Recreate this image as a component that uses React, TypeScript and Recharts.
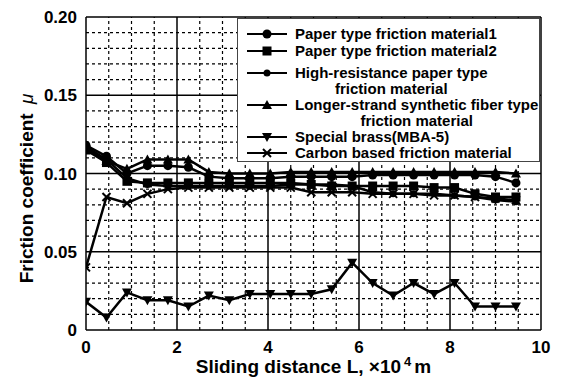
import React from 'react';
import { LineChart, Line, XAxis, YAxis, ReferenceLine, Legend } from 'recharts';

// Sliding distance (x10^4 m)
const distance = [0, 0.45, 0.9, 1.35, 1.8, 2.25, 2.7, 3.15, 3.6, 4.05, 4.5, 4.95, 5.4, 5.85, 6.3, 6.75, 7.2, 7.65, 8.1, 8.55, 9.0, 9.45];

const paper1 = [0.118, 0.111, 0.100, 0.105, 0.105, 0.104, 0.098, 0.097, 0.097, 0.097, 0.098, 0.098, 0.098, 0.098, 0.099, 0.099, 0.099, 0.099, 0.099, 0.099, 0.098, 0.094];
const paper2 = [0.115, 0.107, 0.095, 0.094, 0.094, 0.094, 0.094, 0.094, 0.094, 0.094, 0.094, 0.093, 0.092, 0.092, 0.092, 0.092, 0.092, 0.091, 0.091, 0.087, 0.085, 0.085];
const highRes = [0.117, 0.109, 0.097, 0.093, 0.092, 0.092, 0.092, 0.092, 0.092, 0.092, 0.093, 0.093, 0.093, 0.092, 0.088, 0.087, 0.087, 0.087, 0.086, 0.085, 0.083, 0.082];
const longStrand = [0.116, 0.108, 0.103, 0.109, 0.109, 0.109, 0.101, 0.100, 0.100, 0.100, 0.101, 0.101, 0.101, 0.101, 0.101, 0.101, 0.101, 0.101, 0.101, 0.101, 0.101, 0.100];
const brass = [0.018, 0.008, 0.024, 0.019, 0.019, 0.015, 0.022, 0.019, 0.023, 0.023, 0.023, 0.023, 0.026, 0.043, 0.030, 0.022, 0.030, 0.023, 0.030, 0.015, 0.015, 0.015];
const carbon = [0.040, 0.085, 0.081, 0.087, 0.090, 0.091, 0.091, 0.091, 0.091, 0.091, 0.091, 0.088, 0.088, 0.088, 0.087, 0.087, 0.087, 0.086, 0.086, 0.085, 0.084, 0.083];

const xTicks = [0, 2, 4, 6, 8, 10];
const yTicks = [0, 0.05, 0.1, 0.15, 0.2];

const seriesDefs = [
  { key: 'p1', values: paper1, shape: 'circle', label: ['Paper type friction material1'] },
  { key: 'p2', values: paper2, shape: 'square', label: ['Paper type friction material2'] },
  { key: 'hr', values: highRes, shape: 'smallCircle', label: ['High-resistance paper type', 'friction material'] },
  { key: 'ls', values: longStrand, shape: 'triUp', label: ['Longer-strand synthetic fiber type', 'friction material'] },
  { key: 'sb', values: brass, shape: 'triDown', label: ['Special brass(MBA-5)'] },
  { key: 'cb', values: carbon, shape: 'cross', label: ['Carbon based friction material'] },
];

const data = distance.map((x, i) => {
  const row: any = { x };
  seriesDefs.forEach((s) => { row[s.key] = s.values[i]; });
  return row;
});

// grid values
const minorX: number[] = [];
for (let i = 1; i < 20; i++) if (i % 4 !== 0) minorX.push(i * 0.5);
const minorY: number[] = [];
for (let i = 1; i < 20; i++) if (i % 5 !== 0) minorY.push(Math.round(i * 0.01 * 1000) / 1000);
const majorX = [2, 4, 6, 8, 10];
const majorY = [0.05, 0.1, 0.15, 0.2];

const FONT = '"Liberation Sans", Arial, Helvetica, sans-serif';

function MarkerShape({ cx, cy, shape }: { cx: number; cy: number; shape: string }) {
  if (cx == null || cy == null || isNaN(cx) || isNaN(cy)) return null;
  switch (shape) {
    case 'circle':
      return <circle cx={cx} cy={cy} r={4.5} fill="#000" />;
    case 'smallCircle':
      return <circle cx={cx} cy={cy} r={3.5} fill="#000" />;
    case 'square':
      return <rect x={cx - 4.5} y={cy - 4.5} width={9} height={9} fill="#000" />;
    case 'triUp':
      return <polygon points={`${cx},${cy - 5} ${cx - 5},${cy + 4} ${cx + 5},${cy + 4}`} fill="#000" />;
    case 'triDown':
      return <polygon points={`${cx},${cy + 5} ${cx - 5},${cy - 4} ${cx + 5},${cy - 4}`} fill="#000" />;
    case 'cross':
      return (
        <g stroke="#000" strokeWidth={2}>
          <line x1={cx - 4} y1={cy - 4} x2={cx + 4} y2={cy + 4} />
          <line x1={cx - 4} y1={cy + 4} x2={cx + 4} y2={cy - 4} />
        </g>
      );
    default:
      return null;
  }
}

function makeDot(shape: string, key: string) {
  return (props: any) => (
    <g key={`${key}-${props.index}`}>
      <MarkerShape cx={props.cx} cy={props.cy} shape={shape} />
    </g>
  );
}

function LegendBox() {
  return (
    <div
      style={{
        width: 303,
        height: 144,
        boxSizing: 'border-box',
        border: '1px solid #444',
        background: '#fff',
        fontFamily: FONT,
        fontWeight: 'bold',
        fontSize: 15,
        color: '#000',
        paddingTop: 7,
      }}
    >
      {seriesDefs.map((s, i) => (
        <div
          key={s.key}
          style={{ display: 'flex', alignItems: 'flex-start', marginTop: i === 1 ? 1 : i === 2 ? 6 : 0 }}
        >
          <svg width={40} height={16} style={{ marginLeft: 9, marginRight: 8, flex: 'none' }}>
            <line x1={0} y1={8} x2={40} y2={8} stroke="#000" strokeWidth={2} />
            <MarkerShape cx={20} cy={8} shape={s.shape} />
          </svg>
          <div style={{ lineHeight: '16px', textAlign: 'center', whiteSpace: 'nowrap' }}>
            {s.label.map((t, j) => (
              <div key={j}>{t}</div>
            ))}
          </div>
        </div>
      ))}
    </div>
  );
}

function XLabel(props: any) {
  const vb = props.viewBox || {};
  const cx = vb.x + vb.width / 2;
  const y = vb.y + 43;
  return (
    <text x={cx} y={y} textAnchor="middle" fontFamily={FONT} fontWeight="bold" fontSize={19} fill="#000">
      <tspan>Sliding distance L, ×10</tspan>
      <tspan dx={3} dy={-7} fontSize={13}>4</tspan>
      <tspan dx={3} dy={7}>m</tspan>
    </text>
  );
}

function YLabel(props: any) {
  const vb = props.viewBox || {};
  const x = vb.x + 33;
  const y = vb.y + vb.height / 2 + 15;
  return (
    <text
      x={x}
      y={y}
      transform={`rotate(-90 ${x} ${y})`}
      textAnchor="middle"
      fontFamily={FONT}
      fontWeight="bold"
      fontSize={19}
      fill="#000"
    >
      <tspan>Friction coefficient </tspan>
      <tspan dx={4} fontStyle="italic" fontWeight="normal">μ</tspan>
    </text>
  );
}

export default function App() {
  const tickStyle = { fontFamily: FONT, fontWeight: 'bold', fontSize: 17, fill: '#000' } as any;
  return (
    <div style={{ position: 'absolute', left: 0, top: 0, width: 561, height: 383, background: '#fff' }}>
      <LineChart width={561} height={383} data={data} margin={{ top: 17, right: 20, bottom: 0, left: 0 }}>
        <XAxis
          dataKey="x"
          type="number"
          domain={[0, 10]}
          ticks={xTicks}
          tickLine={false}
          tickSize={0}
          tickMargin={11}
          height={53}
          axisLine={{ stroke: '#000', strokeWidth: 1.5 }}
          tick={tickStyle}
          label={<XLabel />}
          allowDataOverflow
        />
        <YAxis
          type="number"
          domain={[0, 0.2]}
          ticks={yTicks}
          tickFormatter={(v: number) => (v === 0 ? '0' : v.toFixed(2))}
          tickLine={false}
          tickSize={0}
          tickMargin={9}
          width={86}
          axisLine={{ stroke: '#000', strokeWidth: 1.5 }}
          tick={tickStyle}
          label={<YLabel />}
          allowDataOverflow
        />
        {minorX.map((v) => (
          <ReferenceLine key={`mx${v}`} x={v} stroke="#000" strokeWidth={1.2} strokeDasharray="3 3" />
        ))}
        {minorY.map((v) => (
          <ReferenceLine key={`my${v}`} y={v} stroke="#000" strokeWidth={1.2} strokeDasharray="3 3" />
        ))}
        {majorX.map((v) => (
          <ReferenceLine key={`Mx${v}`} x={v} stroke="#000" strokeWidth={1.5} />
        ))}
        {majorY.map((v) => (
          <ReferenceLine key={`My${v}`} y={v} stroke="#000" strokeWidth={1.5} />
        ))}
        {seriesDefs.map((s) => (
          <Line
            key={s.key}
            dataKey={s.key}
            type="linear"
            stroke="#000"
            strokeWidth={2.5}
            dot={makeDot(s.shape, s.key)}
            activeDot={false}
            isAnimationActive={false}
            legendType="none"
          />
        ))}
        <Legend
          layout="vertical"
          align="center"
          verticalAlign="middle"
          content={() => <LegendBox />}
          wrapperStyle={{ position: 'absolute', left: 237, top: 18, width: 303, height: 144 }}
        />
      </LineChart>
    </div>
  );
}
